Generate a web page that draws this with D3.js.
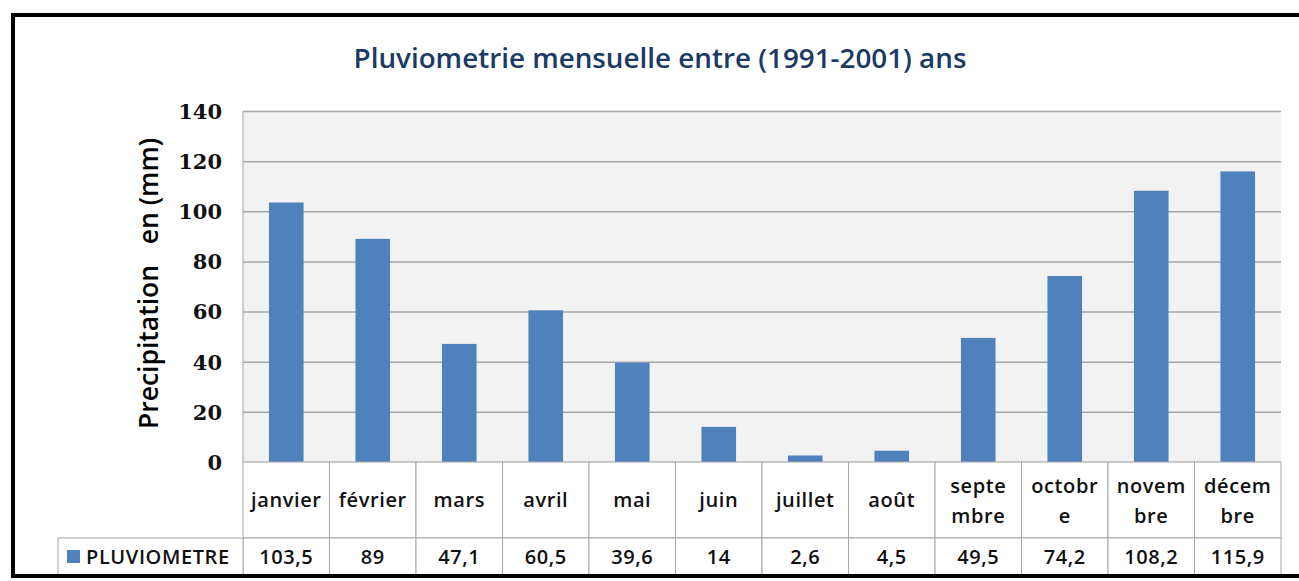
<!DOCTYPE html>
<html>
<head>
<meta charset="utf-8">
<script src="https://cdn.jsdelivr.net/npm/d3@7"></script>
<style>
  body { margin: 0; background: #fff; }
  svg { display: block; }
</style>
</head>
<body>
<div id="chart"></div>
<script>
// data
let months = ['janvier', 'février', 'mars', 'avril', 'mai', 'juin', 'juillet', 'août', 'septe\nmbre', 'octobr\ne', 'novem\nbre', 'décem\nbre']
let pluie = [103.5, 89, 47.1, 60.5, 39.6, 14, 2.6, 4.5, 49.5, 74.2, 108.2, 115.9]
let valueLabels = ['103,5', '89', '47,1', '60,5', '39,6', '14', '2,6', '4,5', '49,5', '74,2', '108,2', '115,9']
let yTicks = [0, 20, 40, 60, 80, 100, 120, 140]
let seriesName = 'PLUVIOMETRE'
let title = 'Pluviometrie mensuelle entre (1991-2001) ans'
let yTitle = 'Precipitation   en (mm)'

let width = 1299, height = 581
let pLeft = 243, pRight = 1281, pTop = 111, pBottom = 462
let rowCat = 538, rowVal = 576, legendLeft = 58

let sans = '"Open Sans", Lato, sans-serif'
let barColor = '#4f81bd'
let lineColor = '#a6a6a6'

let svg = d3.select('#chart')
  .append('svg')
  .attr('width', width)
  .attr('height', height)

let x = d3.scaleBand()
  .domain(months)
  .range([pLeft, pRight])
  .paddingInner(0.6)
  .paddingOuter(0.3)

let y = d3.scaleLinear()
  .domain([0, 140])
  .range([pBottom, pTop])

// plot background
svg.append('rect')
  .attr('x', pLeft)
  .attr('y', pTop)
  .attr('width', pRight - pLeft)
  .attr('height', pBottom - pTop)
  .attr('fill', '#f2f2f2')

// gridlines
svg.append('g')
  .attr('transform', 'translate(' + pLeft + ',0)')
  .call(d3.axisLeft(y).tickValues(yTicks).tickSize(-(pRight - pLeft)).tickFormat(''))
  .call(g => g.select('.domain').remove())
  .call(g => g.selectAll('line').attr('stroke', lineColor).attr('stroke-width', 1.5))

svg.append('line')
  .attr('x1', pLeft).attr('x2', pLeft)
  .attr('y1', pTop).attr('y2', pBottom)
  .attr('stroke', lineColor)

// bars
svg.append('g')
  .selectAll('rect')
  .data(pluie)
  .enter()
  .append('rect')
  .attr('x', (d, i) => x(months[i]))
  .attr('y', d => y(d))
  .attr('width', x.bandwidth())
  .attr('height', d => y(0) - y(d))
  .attr('fill', barColor)

// y axis labels
let yAxis = svg.append('g')
  .attr('transform', 'translate(' + (pLeft - 21) + ',0)')
  .call(d3.axisLeft(y).tickValues(yTicks).tickSize(0).tickPadding(0))
yAxis.select('.domain').remove()
yAxis.selectAll('text')
  .attr('font-family', '"DejaVu Serif", serif')
  .attr('font-weight', 'bold')
  .attr('font-size', 21)
  .attr('fill', '#111')
  .attr('dy', '0.35em')

// y title
svg.append('text')
  .attr('transform', 'translate(158,' + ((pTop + pBottom) / 2 - 3) + ') rotate(-90)')
  .attr('text-anchor', 'middle')
  .attr('font-family', sans)
  .attr('font-weight', 600)
  .attr('font-size', 26.5)
  .attr('fill', '#000')
  .style('white-space', 'pre')
  .text(yTitle)

// title
svg.append('text')
  .attr('x', 660)
  .attr('y', 68)
  .attr('text-anchor', 'middle')
  .attr('font-family', sans)
  .attr('font-weight', 600)
  .attr('font-size', 27.8)
  .attr('fill', '#1b3a66')
  .text(title)

// data table
let colW = (pRight - pLeft) / months.length
let colLeft = i => pLeft + i * colW
let table = svg.append('g')
  .attr('font-family', sans)
  .attr('font-weight', 600)
  .attr('font-size', 20)
  .attr('letter-spacing', 0.6)
  .attr('fill', '#111')

table.selectAll('rect.cell-cat')
  .data(months)
  .enter()
  .append('rect')
  .attr('class', 'cell-cat')
  .attr('x', (d, i) => colLeft(i))
  .attr('y', pBottom)
  .attr('width', colW)
  .attr('height', rowCat - pBottom)
  .attr('fill', '#fff')
  .attr('stroke', lineColor)

table.selectAll('rect.cell-val')
  .data(valueLabels)
  .enter()
  .append('rect')
  .attr('class', 'cell-val')
  .attr('x', (d, i) => colLeft(i))
  .attr('y', rowCat)
  .attr('width', colW)
  .attr('height', rowVal - rowCat)
  .attr('fill', '#fff')
  .attr('stroke', lineColor)

table.append('rect')
  .attr('x', legendLeft)
  .attr('y', rowCat)
  .attr('width', pLeft - legendLeft)
  .attr('height', rowVal - rowCat)
  .attr('fill', '#fff')
  .attr('stroke', lineColor)

months.forEach(function(m, i) {
  let lines = m.split('\n')
  let cx = colLeft(i) + colW / 2
  let t = table.append('text')
    .attr('x', cx)
    .attr('text-anchor', 'middle')
  if (lines.length == 1) {
    t.attr('y', 507).text(m)
  } else {
    t.append('tspan').attr('x', cx).attr('y', 493).text(lines[0])
    t.append('tspan').attr('x', cx).attr('y', 523).text(lines[1])
  }
})

table.selectAll('text.val')
  .data(valueLabels)
  .enter()
  .append('text')
  .attr('class', 'val')
  .attr('x', (d, i) => colLeft(i) + colW / 2)
  .attr('y', 564)
  .attr('text-anchor', 'middle')
  .text(d => d)

// legend key
table.append('rect')
  .attr('x', 67)
  .attr('y', 550)
  .attr('width', 13)
  .attr('height', 13)
  .attr('fill', barColor)

table.append('text')
  .attr('x', 86)
  .attr('y', 564)
  .text(seriesName)

// outer frame (cropped on the right)
svg.append('rect')
  .attr('x', 13)
  .attr('y', 15)
  .attr('width', 1320)
  .attr('height', 561)
  .attr('fill', 'none')
  .attr('stroke', '#000')
  .attr('stroke-width', 4)
</script>
</body>
</html>
